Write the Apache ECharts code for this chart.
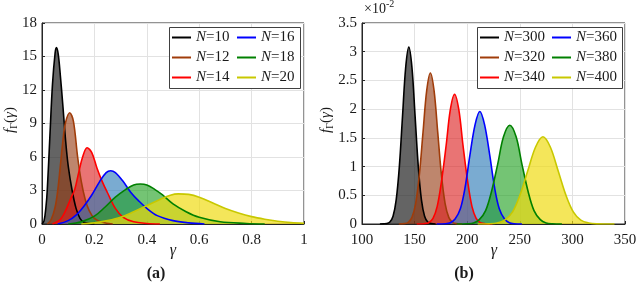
<!DOCTYPE html>
<html><head><meta charset="utf-8">
<script src="https://cdn.jsdelivr.net/npm/echarts@6/dist/echarts.min.js"></script>
<style>html,body{margin:0;padding:0;background:#fff}#c{width:640px;height:282px}</style>
</head><body><div id="c"></div>
<script>
// ---- Panel (a) data: gamma, f_Gamma(gamma) ----
const namesA = ['N=10','N=12','N=14','N=16','N=18','N=20'];
const a10 = [[0,0],[0.008,0.3],[0.015,1.5],[0.02,3],[0.03,7.8],[0.04,12.5],[0.05,15.3],[0.055,15.8],[0.062,15.2],[0.07,13.3],[0.08,10.5],[0.09,7.5],[0.1,5.2],[0.115,3],[0.13,1.4],[0.145,0.5],[0.16,0.15],[0.2,0]];
const a12 = [[0.02,0],[0.035,0.4],[0.05,1.5],[0.06,3],[0.07,5.2],[0.08,7.5],[0.09,9.1],[0.106,9.96],[0.12,9.2],[0.136,6],[0.15,3.8],[0.165,2.2],[0.18,1.2],[0.2,0.5],[0.23,0.15],[0.27,0]];
const a14 = [[0.04,0],[0.07,0.4],[0.09,1.2],[0.11,2.3],[0.125,3.1],[0.14,4.6],[0.155,6],[0.172,6.83],[0.19,6.4],[0.21,5],[0.23,3.8],[0.25,2.8],[0.28,1.4],[0.31,0.6],[0.35,0.2],[0.4,0.05],[0.45,0]];
const a16 = [[0.06,0],[0.1,0.3],[0.13,0.8],[0.16,1.6],[0.19,2.6],[0.22,3.8],[0.245,4.6],[0.262,4.77],[0.28,4.6],[0.31,3.8],[0.34,2.8],[0.37,2.05],[0.4,1.4],[0.44,0.75],[0.5,0.3],[0.56,0.1],[0.62,0]];
const a18 = [[0.1,0],[0.15,0.2],[0.2,0.7],[0.24,1.5],[0.28,2.4],[0.32,3.1],[0.35,3.5],[0.375,3.58],[0.4,3.5],[0.43,3.1],[0.46,2.6],[0.5,1.8],[0.55,1.1],[0.6,0.6],[0.68,0.2],[0.78,0.05],[0.85,0]];
const a20 = [[0.15,0],[0.2,0.1],[0.25,0.3],[0.3,0.6],[0.35,1.1],[0.4,1.65],[0.45,2.2],[0.49,2.58],[0.52,2.7],[0.56,2.65],[0.6,2.4],[0.65,1.9],[0.7,1.38],[0.75,0.98],[0.8,0.66],[0.85,0.43],[0.9,0.25],[0.95,0.12],[1.0,0.06]];
// ---- Panel (b) data: gamma, f_Gamma(gamma) in units of 1e-2 ----
const namesB = ['N=300','N=320','N=340','N=360','N=380','N=400'];
const b300 = [[117,0],[120.5,0.003],[123.5,0.007],[126.5,0.034],[129.5,0.135],[132.5,0.42],[135.5,1.0],[138.5,1.87],[141.5,2.72],[144.5,3.08],[147.5,2.72],[150.5,1.87],[153.5,1.0],[156.5,0.42],[159.5,0.135],[162.5,0.034],[165.5,0.007],[170,0]];
const b320 = [[135,0],[140.5,0.006],[144,0.029],[147.5,0.115],[151,0.356],[154.5,0.854],[158,1.595],[161.5,2.321],[165,2.63],[168.5,2.321],[172,1.595],[175.5,0.854],[179,0.356],[182.5,0.115],[186,0.029],[189.5,0.006],[195,0]];
const b340 = [[152,0],[159,0.005],[163.5,0.025],[167.5,0.099],[171.5,0.306],[175.5,0.734],[180,1.371],[184,1.994],[188,2.26],[192,1.994],[196,1.371],[200.5,0.734],[204.5,0.306],[208.5,0.099],[212.5,0.025],[217,0.005],[224,0]];
const b360 = [[171,0],[179.5,0.004],[184,0.022],[188.5,0.086],[193.5,0.265],[198,0.636],[202.5,1.189],[207.5,1.73],[212,1.96],[216.5,1.73],[221.5,1.189],[226,0.636],[230.5,0.265],[235.5,0.086],[240,0.022],[244.5,0.004],[252,0]];
const b380 = [[190,0],[200,0.004],[206,0.019],[211.5,0.076],[217.5,0.233],[223,0.558],[229,1.043],[234.5,1.518],[240.5,1.72],[246.5,1.518],[252,1.043],[258,0.558],[263.5,0.233],[269.5,0.076],[275,0.019],[281,0.004],[290,0]];
const b400 = [[210,0],[221,0.003],[228.5,0.017],[235.5,0.067],[243,0.206],[250,0.494],[257.5,0.922],[265,1.341],[272,1.52],[279,1.341],[286.5,0.922],[294,0.494],[301,0.206],[308,0.067],[315.5,0.017],[323,0.003],[340,0]];

const lineColors = ['#000000','#a03c0a','#ff0000','#0000ff','#008000','#c8c800'];
const fillColors = ['rgba(40,40,40,0.72)','rgba(150,60,20,0.62)','rgba(220,30,30,0.62)','rgba(40,120,180,0.62)','rgba(30,160,30,0.62)','rgba(240,220,20,0.7)'];

const FONT = '"Liberation Serif", "DejaVu Serif", serif';
const TXT = '#1a1a1a';
const AX = '#262626';

const chart = echarts.init(document.getElementById('c'), null, {renderer:'canvas'});

function axisCommon(extra){
  return Object.assign({
    type:'value',
    axisLine:{show:true, onZero:false, lineStyle:{color:AX, width:1}},
    axisTick:{show:true, inside:true, length:3, lineStyle:{color:AX}},
    splitLine:{show:true, lineStyle:{color:'#e2e2e2', width:1}}
  }, extra);
}

const series = [];
function addPanel(datas, names, gi){
  datas.forEach((d,i)=>{
    series.push({type:'line', name:'fill'+gi+'_'+i, xAxisIndex:gi, yAxisIndex:gi, data:d,
      smooth:0.35, showSymbol:false, symbol:'none', silent:true,
      lineStyle:{width:0, opacity:0}, areaStyle:{color:fillColors[i], opacity:1}, z:2});
  });
  datas.forEach((d,i)=>{
    series.push({type:'line', name:names[i], xAxisIndex:gi, yAxisIndex:gi, data:d,
      smooth:0.35, showSymbol:false, symbol:'none',
      itemStyle:{color:lineColors[i]},
      lineStyle:{width:1.6, color:lineColors[i]}, z:3});
  });
}
addPanel([a10,a12,a14,a16,a18,a20], namesA, 0);
addPanel([b300,b320,b340,b360,b380,b400], namesB, 1);

function legendCol(names, left, top){
  return {
    data:names, orient:'vertical', left:left, top:top, icon:'rect',
    itemWidth:19, itemHeight:2, itemGap:5, padding:0, z:6,
    selectedMode:false,
    formatter: n => '{i|N}{t|' + n.slice(1) + '}',
    textStyle:{fontFamily:FONT, fontSize:15, color:TXT, lineHeight:15,
      rich:{i:{fontStyle:'italic', fontFamily:FONT, fontSize:15, color:TXT},
            t:{fontFamily:FONT, fontSize:15, color:TXT}}}
  };
}
const lbl = (m) => ({fontFamily:FONT, fontSize:15, color:TXT, margin:m});
const ylab = {
  i:{fontStyle:'italic', fontFamily:FONT, fontSize:15, fill:TXT, verticalAlign:'middle'},
  n:{fontFamily:FONT, fontSize:15, fill:TXT, verticalAlign:'middle'},
  s:{fontFamily:FONT, fontSize:10, fill:TXT, verticalAlign:'middle', padding:[9,0,0,0]}
};

const option = {
  animation:false,
  backgroundColor:'#ffffff',
  grid:[
    {left:42, top:23, width:262, height:201, show:true, borderColor:AX, borderWidth:1, backgroundColor:'rgba(0,0,0,0)'},
    {left:362, top:23, width:263, height:201, show:true, borderColor:AX, borderWidth:1, backgroundColor:'rgba(0,0,0,0)'}
  ],
  xAxis:[
    axisCommon({gridIndex:0, min:0, max:1, interval:0.2, axisLabel:lbl(9)}),
    axisCommon({gridIndex:1, min:100, max:350, interval:50, axisLabel:lbl(9)})
  ],
  yAxis:[
    axisCommon({gridIndex:0, min:0, max:18, interval:3, axisLabel:lbl(5)}),
    axisCommon({gridIndex:1, min:0, max:3.5, interval:0.5, axisLabel:lbl(5)})
  ],
  legend:[
    legendCol(['N=10','N=12','N=14'], 172, 30),
    legendCol(['N=16','N=18','N=20'], 237, 30),
    legendCol(['N=300','N=320','N=340'], 480, 30),
    legendCol(['N=360','N=380','N=400'], 552, 30)
  ],
  graphic:[
    {type:'rect', z:5, shape:{x:169.5, y:27.5, width:131, height:61}, style:{fill:'#fff', stroke:'#404040', lineWidth:1}},
    {type:'rect', z:5, shape:{x:477.5, y:27.5, width:145, height:61}, style:{fill:'#fff', stroke:'#404040', lineWidth:1}},
    {type:'text', z:6, x:173, y:251, style:{text:'γ', fontFamily:FONT, fontStyle:'italic', fontSize:16, fill:TXT, align:'center', verticalAlign:'middle'}},
    {type:'text', z:6, x:494, y:251, style:{text:'γ', fontFamily:FONT, fontStyle:'italic', fontSize:16, fill:TXT, align:'center', verticalAlign:'middle'}},
    {type:'text', z:6, x:156, y:274, style:{text:'(a)', fontFamily:FONT, fontWeight:'bold', fontSize:16, fill:TXT, align:'center', verticalAlign:'middle'}},
    {type:'text', z:6, x:464, y:274, style:{text:'(b)', fontFamily:FONT, fontWeight:'bold', fontSize:16, fill:TXT, align:'center', verticalAlign:'middle'}},
    {type:'text', z:6, x:10, y:120, rotation:Math.PI/2,
      style:{text:'{i|f}{s|Γ}{n|(}{i|γ}{n|)}', fill:TXT, align:'center', verticalAlign:'middle', rich:ylab}},
    {type:'text', z:6, x:326, y:120, rotation:Math.PI/2,
      style:{text:'{i|f}{s|Γ}{n|(}{i|γ}{n|)}', fill:TXT, align:'center', verticalAlign:'middle', rich:ylab}},
    {type:'text', z:6, x:364, y:6,
      style:{text:'{n|×10}{s|-2}', fill:TXT, align:'left', verticalAlign:'middle',
        rich:{n:{fontFamily:FONT, fontSize:14, fill:TXT, verticalAlign:'middle', padding:[6,0,0,0]},
              s:{fontFamily:FONT, fontSize:10, fill:TXT, verticalAlign:'middle', padding:[0,0,4,0]}}}}
  ],
  series:series
};
chart.setOption(option);
</script>
</body></html>
